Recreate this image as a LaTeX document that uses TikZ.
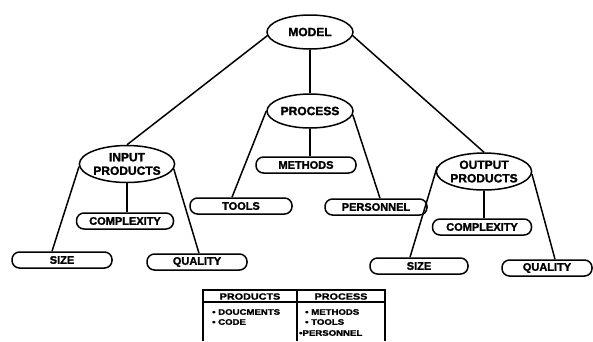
\documentclass[tikz,border=0pt]{standalone}
\usepackage{fontspec}
\usepackage{graphicx}
\setmainfont{Liberation Sans}[BoldFeatures={FakeBold=1.6}]
\usetikzlibrary{shapes.geometric}
\newcommand{\widetxt}[1]{\scalebox{1.2}[1]{#1}}

\begin{document}
\begin{tikzpicture}[x=1pt,y=-1pt,
  conn/.style={line width=1.5pt},
  topic/.style={ellipse, draw, line width=1.5pt, inner sep=0pt,
    minimum width=86pt, minimum height=34pt, align=center,
    font=\fontsize{12}{13.5}\selectfont\bfseries},
  leaf/.style={draw, line width=1.5pt, rounded corners=7.5pt,
    minimum width=100pt, minimum height=16pt, inner sep=0pt,
    font=\fontsize{11}{12}\selectfont\bfseries},
  rule/.style={line width=1.3pt},
  hdr/.style={inner sep=0pt, font=\fontsize{9}{10}\selectfont\bfseries},
  item/.style={inner sep=0pt, anchor=west, font=\fontsize{8}{9}\selectfont\bfseries},
]
\useasboundingbox (0,0) rectangle (593,341);

% top of the hierarchy
\node[topic] (model) at (310,32) {MODEL};
\node[topic] (proc) at (310,111) {PROCESS};
\node[topic, minimum height=37pt] (inp) at (127,164) {INPUT\\PRODUCTS};
\node[topic, minimum height=37pt, minimum width=84pt] (outp) at (484,171.5) {OUTPUT\\PRODUCTS};

% leaves
\node[leaf] (sizein) at (62,260) {SIZE};
\node[leaf] (qualin) at (197,262) {QUALITY};
\node[leaf, minimum width=97pt] (cplxin) at (125,221) {COMPLEXITY};
\node[leaf, minimum width=102pt] (tools) at (241,206) {TOOLS};
\node[leaf] (meth) at (306,165) {METHODS};
\node[leaf, minimum width=102pt] (pers) at (376,207) {PERSONNEL};
\node[leaf, minimum width=99pt] (cplxout) at (482,227) {COMPLEXITY};
\node[leaf, minimum width=98pt] (sizeout) at (419,266) {SIZE};
\node[leaf, minimum width=90pt] (qualout) at (547,268) {QUALITY};

% connectors
\draw[conn] (model.185) -- (inp.north);
\draw[conn] (model.355) -- (outp.north);
\draw[conn] (model.south) -- (proc.north);
\draw[conn] (proc.west) -- ([xshift=-9pt]tools.north);
\draw[conn] (proc.south) -- (proc.south |- meth.north);
\draw[conn] (proc.355) -- ([xshift=4pt]pers.north);
\draw[conn] (inp.183) -- ([xshift=-10pt]sizein.north);
\draw[conn] (inp.south) -- (inp.south |- cplxin.north);
\draw[conn] (inp.354) -- ([xshift=2pt]qualin.north);
\draw[conn] (outp.174) -- ([xshift=-9pt]sizeout.north);
\draw[conn] (outp.south) -- (outp.south |- cplxout.north);
\draw[conn] (outp.357) -- ([xshift=8pt]qualout.north);

% legend table
\draw[rule] (203,341) -- (203,290) -- (385,290) -- (385,341);
\draw[line width=2.4pt] (203,290) -- (385,290);
\draw[rule] (203,302) -- (385,302);
\draw[rule] (297,290) -- (297,341);
\node[hdr] (th1) at (250,296.5) {\widetxt{PRODUCTS}};
\node[hdr] (th2) at (341,296.5) {\widetxt{PROCESS}};
\node[item] (l1) at (212,312) {\widetxt{• DOUCMENTS}};
\node[item] (l2) at (212,322) {\widetxt{• CODE}};
\node[item] (r1) at (305,312) {\widetxt{• METHODS}};
\node[item] (r2) at (305,322) {\widetxt{• TOOLS}};
\node[item] (r3) at (299,333) {\widetxt{•PERSONNEL}};
\end{tikzpicture}
\end{document}
